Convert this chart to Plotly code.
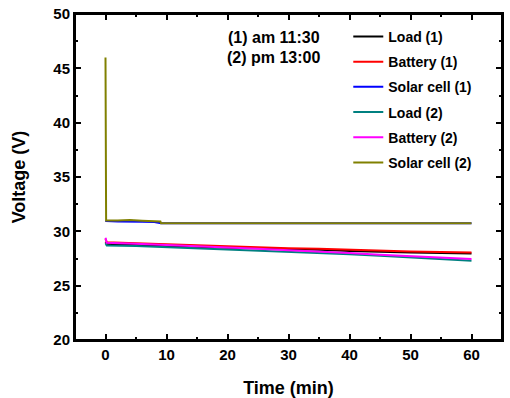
import plotly.graph_objects as go

# Time (min) sample points
t = [0, 0.2, 5, 10, 15, 20, 25, 30, 35, 40, 45, 50, 55, 60]
load1 = [29.0, 28.85, 28.75, 28.65, 28.6, 28.5, 28.45, 28.4, 28.3, 28.2, 28.1, 28.05, 28.0, 27.95]
battery1 = [29.3, 29.0, 28.9, 28.8, 28.7, 28.65, 28.55, 28.45, 28.4, 28.3, 28.2, 28.15, 28.1, 28.05]
load2 = [28.9, 28.7, 28.65, 28.55, 28.45, 28.35, 28.2, 28.1, 28.0, 27.9, 27.75, 27.6, 27.4, 27.3]
battery2 = [29.4, 28.95, 28.85, 28.75, 28.6, 28.5, 28.4, 28.25, 28.15, 28.0, 27.85, 27.7, 27.55, 27.45]

t_solar = [0, 0.1, 2, 4, 6, 8, 9, 9.1, 20, 40, 60]
solar1 = [31.0, 30.95, 30.9, 30.92, 30.88, 30.85, 30.8, 30.75, 30.75, 30.75, 30.75]
solar2 = [46.0, 31.0, 31.0, 31.05, 30.98, 30.95, 30.9, 30.75, 30.75, 30.75, 30.75]

series = [
    ("Load (1)", t, load1, "#000000"),
    ("Battery (1)", t, battery1, "#ff0000"),
    ("Solar cell (1)", t_solar, solar1, "#0000ff"),
    ("Load (2)", t, load2, "#008080"),
    ("Battery (2)", t, battery2, "#ff00ff"),
    ("Solar cell (2)", t_solar, solar2, "#808000"),
]

fig = go.Figure()
for i, (name, x, y, c) in enumerate(series):
    fig.add_trace(go.Scatter(x=x, y=y, mode="lines", name=f"<b>{name}</b>",
                             line=dict(color=c, width=2),
                             legendgroup=f"g{i}"))

font = "Liberation Sans, Arial, sans-serif"
axis_common = dict(showline=True, linecolor="black", linewidth=2, mirror="ticks",
                   ticks="inside", ticklen=6, tickwidth=1.5, tickcolor="black",
                   showgrid=False, zeroline=False, automargin=False,
                   ticklabeloverflow="allow",
                   tickfont=dict(family=font, size=15, color="black"))

fig.update_layout(
    xaxis=dict(range=[-5, 65], dtick=10, tick0=0,
               title=dict(text="<b>Time (min)</b>", font=dict(family=font, size=18, color="black"), standoff=19),
               tickprefix="<b>", ticksuffix="</b>", **axis_common),
    yaxis=dict(range=[20, 50], dtick=5, tick0=0,
               title=dict(text="<b>Voltage (V)</b>", font=dict(family=font, size=18, color="black"), standoff=23),
               tickprefix="<b>", ticksuffix="</b>", **axis_common),
    # minor ticks via overlay axes
    xaxis2=dict(overlaying="x", range=[-5, 65], dtick=5, tick0=0, ticks="inside",
                ticklen=3, tickwidth=1.5, tickcolor="black", showticklabels=False,
                showgrid=False, zeroline=False, showline=False, mirror="ticks", automargin=False),
    yaxis2=dict(overlaying="y", range=[20, 50], dtick=2.5, tick0=0, ticks="inside",
                ticklen=3, tickwidth=1.5, tickcolor="black", showticklabels=False,
                showgrid=False, zeroline=False, showline=False, mirror="ticks", automargin=False),
)
# invisible trace to activate overlay axes
fig.add_trace(go.Scatter(x=[0], y=[30], xaxis="x2", yaxis="y2", mode="markers",
                         marker=dict(opacity=0), showlegend=False, hoverinfo="skip"))

fig.add_shape(type="rect", xref="paper", yref="paper", x0=0, x1=1, y0=0, y1=1,
              line=dict(color="black", width=2), layer="above")

fig.add_annotation(x=0.578, y=0.929, xref="paper", yref="paper", xanchor="right", yanchor="middle",
                   text="<b>(1) am 11:30</b>", showarrow=False,
                   font=dict(family=font, size=16, color="black"))
fig.add_annotation(x=0.578, y=0.866, xref="paper", yref="paper", xanchor="right", yanchor="middle",
                   text="<b>(2) pm 13:00</b>", showarrow=False,
                   font=dict(family=font, size=16, color="black"))

fig.update_layout(
    width=510, height=398,
    margin=dict(l=75, r=8, t=14, b=58),
    plot_bgcolor="white", paper_bgcolor="white",
    legend=dict(x=0.64, y=0.979, xanchor="left", yanchor="top",
                font=dict(family=font, size=14, color="black"),
                bgcolor="rgba(0,0,0,0)", tracegroupgap=4),
    showlegend=True,
)

fig.write_html("out.html", config={"displayModeBar": False},
               post_script="document.body.style.margin='0';document.body.style.overflow='hidden';")
